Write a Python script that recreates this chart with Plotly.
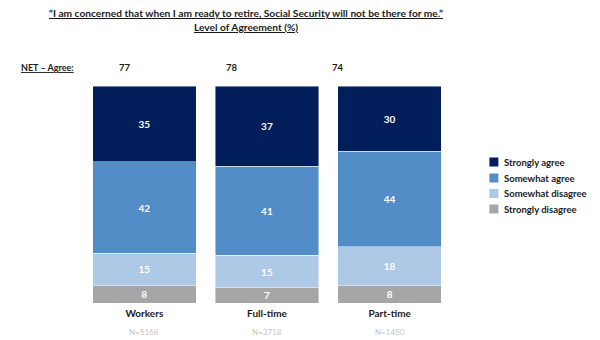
import plotly.graph_objects as go

# Survey groups and sample sizes
groups = ["Workers", "Full-time", "Part-time"]
sample_sizes = ["N=5168", "N=3718", "N=1450"]
net_agree = [77, 78, 74]

# Agreement levels (%), bottom of the stack first
strongly_disagree = [8, 7, 8]
somewhat_disagree = [15, 15, 18]
somewhat_agree = [42, 41, 44]
strongly_agree = [35, 37, 30]

series = [
    ("Strongly disagree", strongly_disagree, "#a6a6a6"),
    ("Somewhat disagree", somewhat_disagree, "#adc9e5"),
    ("Somewhat agree", somewhat_agree, "#538dc8"),
    ("Strongly agree", strongly_agree, "#021e5b"),
]

FONT = "Lato"
DARK = "#1a1a1a"
x_pos = list(range(len(groups)))

# Figure geometry (pixels)
W, H = 600, 340
L, R, T, B = 82.5, 148.5, 86, 37
pw, ph = W - L - R, H - T - B


def px(xp):
    return (xp - L) / pw


def py(yp):
    return (H - B - yp) / ph


fig = go.Figure()
for name, vals, color in series:
    fig.add_trace(go.Bar(
        x=x_pos, y=vals, name=name,
        marker=dict(color=color, line=dict(color="rgba(255,255,255,0.55)", width=0.8)),
        width=0.845,
        text=[str(v) for v in vals],
        textposition="inside", insidetextanchor="middle", textangle=0,
        textfont=dict(family=FONT, size=10, color="white", weight="bold"),
        hoverinfo="skip", showlegend=False,
    ))

ann = []
shapes = []

title_lines = [
    ("<u>“I am concerned that when I am ready to retire, Social Security will not be there for me.”</u>", 13),
    ("<u>Level of Agreement (%)</u>", 27),
]
for txt, yp in title_lines:
    ann.append(dict(text=txt, x=px(246), y=py(yp), xref="paper", yref="paper",
                    showarrow=False, xanchor="center", yanchor="middle",
                    font=dict(family=FONT, size=10.2, color=DARK, weight="bold")))

ann.append(dict(text="<u>NET – Agree:</u>", x=px(18), y=py(68), xref="paper", yref="paper",
                showarrow=False, xanchor="left", yanchor="middle",
                font=dict(family=FONT, size=9, color=DARK, weight="bold")))

net_x = [125, 232, 338]
for v, xp in zip(net_agree, net_x):
    ann.append(dict(text=str(v), x=px(xp), y=py(68), xref="paper", yref="paper",
                    showarrow=False, xanchor="center", yanchor="middle",
                    font=dict(family=FONT, size=9.5, color=DARK, weight="bold")))

for i, n in enumerate(sample_sizes):
    ann.append(dict(text=n, x=i, y=py(332), xref="x", yref="paper",
                    showarrow=False, xanchor="center", yanchor="middle",
                    font=dict(family=FONT, size=8, color="#c4c4c4")))

# Legend key, top entry first
legend_y = [162, 178, 193.5, 209]
for (name, _, color), yp in zip(reversed(series), legend_y):
    shapes.append(dict(type="rect", xref="paper", yref="paper",
                       x0=px(490), x1=px(499), y0=py(yp + 4.5), y1=py(yp - 4.5),
                       fillcolor=color, line=dict(width=0)))
    ann.append(dict(text=name, x=px(503), y=py(yp), xref="paper", yref="paper",
                    showarrow=False, xanchor="left", yanchor="middle",
                    font=dict(family=FONT, size=9.5, color=DARK, weight="bold")))

fig.update_layout(
    width=W, height=H,
    margin=dict(l=L, r=R, t=T, b=B, autoexpand=False),
    paper_bgcolor="white", plot_bgcolor="white",
    barmode="stack",
    showlegend=False,
    uniformtext=dict(minsize=10, mode="show"),
    xaxis=dict(range=[-0.5, 2.5], tickmode="array", tickvals=x_pos,
               ticktext=[f"<b>{g}</b>" for g in groups],
               tickfont=dict(family=FONT, size=10, color=DARK),
               ticklabelstandoff=3,
               showgrid=False, zeroline=False, showline=False, ticks="", ticklen=0),
    yaxis=dict(range=[0, 100], visible=False, showgrid=False, zeroline=False),
    annotations=ann,
    shapes=shapes,
    font=dict(family=FONT),
)

fig.write_html("out.html")
